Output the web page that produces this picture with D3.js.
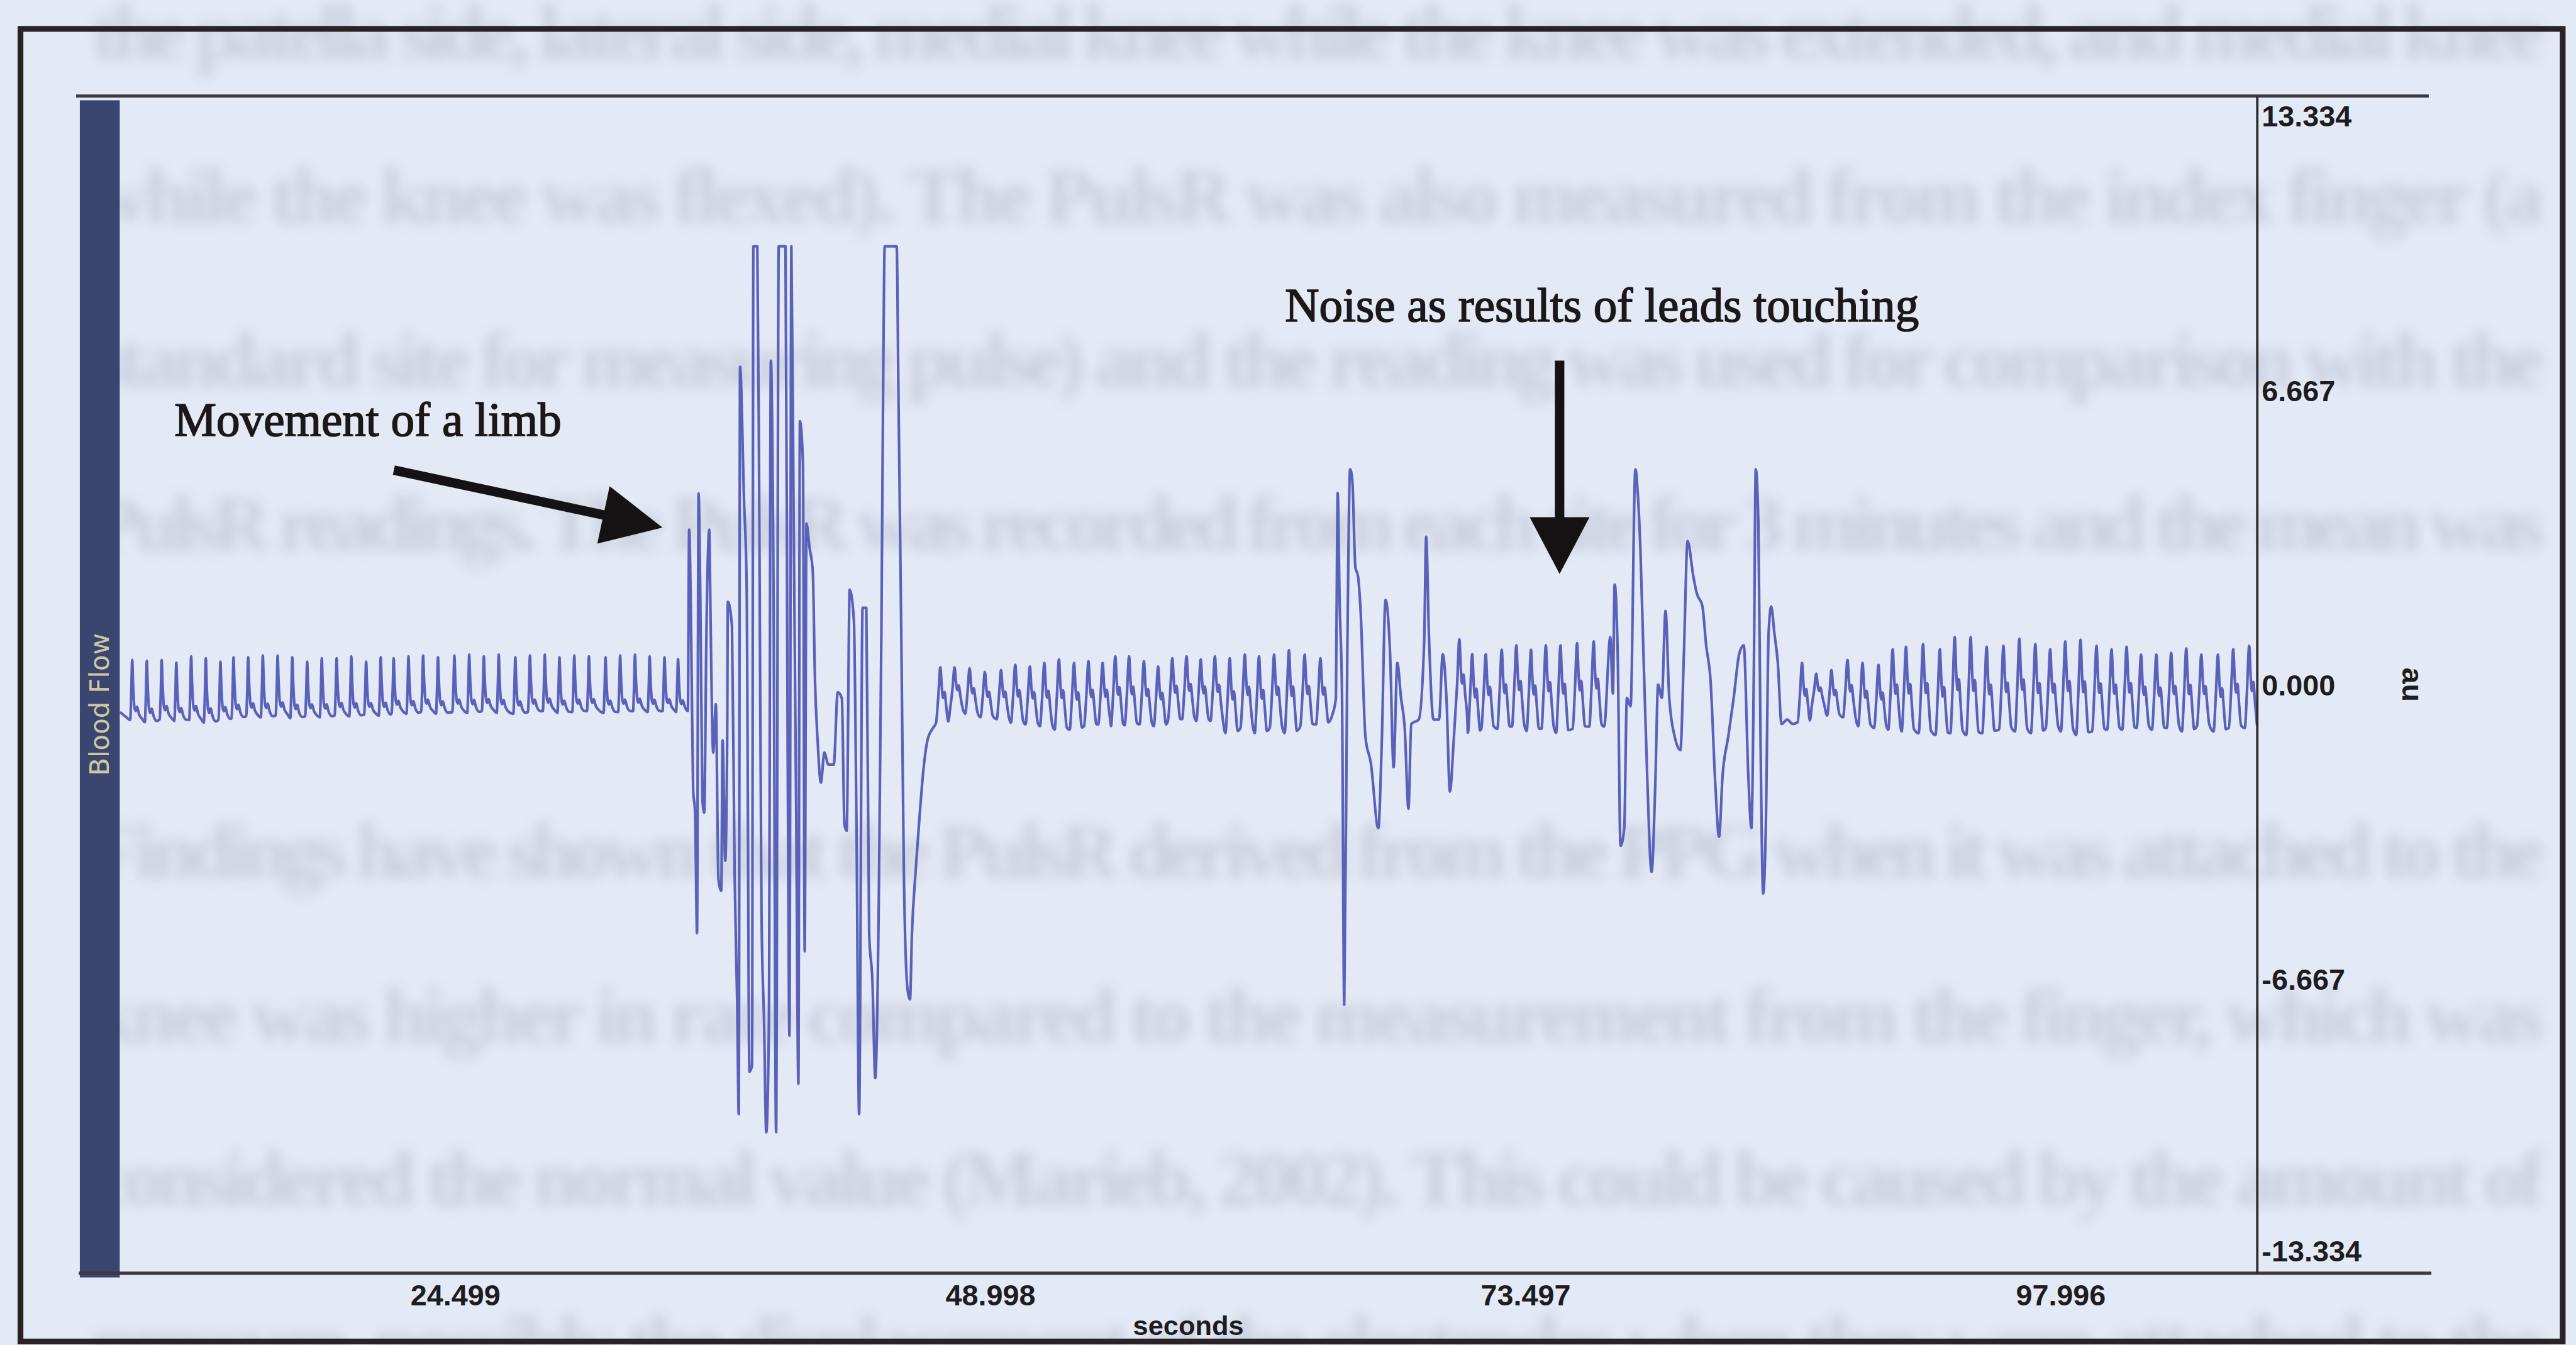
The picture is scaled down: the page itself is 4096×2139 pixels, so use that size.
<!DOCTYPE html>
<html>
<head>
<meta charset="utf-8">
<script src="https://cdn.jsdelivr.net/npm/d3@7"></script>
<style>
	html, body { margin: 0; padding: 0; background: #e4e9f6; }
	svg { display: block; }
</style>
</head>
<body>
<svg width="4096" height="2139"></svg>
<script>
// axis ticks and window, as printed on the recording
var xTicks = [24.499, 48.998, 73.497, 97.996];
var yTicks = [13.334, 6.667, 0, -6.667, -13.334];
var timeRange = [9.14, 106.99];
var valueRange = [-13.334, 13.334];

// one pulse: [seconds from the peak, share of trough->peak]
var restShape = [[-0.09, 0], [-0.045, 0.4], [0, 1], [0.04, 0.6], [0.10, 0.22], [0.16, 0.15], [0.22, 0.22], [0.31, 0.1], [0.45, 0.02]];
var beatShape = [[-0.2, 0], [-0.1, 0.45], [0, 1], [0.07, 0.62], [0.13, 0.45], [0.19, 0.56], [0.27, 0.3], [0.36, 0.03]];

// beats: [peak time (s), peak (au), trough (au)]
var restBeats = [
	[9.71, 0.56, -0.80], [10.38, 0.54, -0.85], [11.06, 0.56, -0.78], [11.73, 0.50, -0.82],
	[12.41, 0.64, -0.80], [13.08, 0.60, -0.86], [13.75, 0.52, -0.80], [14.35, 0.62, -0.76],
	[15.02, 0.62, -0.72], [15.69, 0.66, -0.74], [16.37, 0.66, -0.70], [17.04, 0.62, -0.76],
	[17.72, 0.52, -0.72], [18.39, 0.60, -0.74], [19.07, 0.60, -0.70], [19.74, 0.64, -0.72],
	[20.42, 0.52, -0.68], [21.09, 0.62, -0.70], [21.68, 0.60, -0.64], [22.36, 0.64, -0.66],
	[23.03, 0.66, -0.62], [23.71, 0.62, -0.66], [24.46, 0.66, -0.62], [25.14, 0.68, -0.64],
	[25.81, 0.64, -0.60], [26.49, 0.68, -0.64], [27.25, 0.62, -0.66], [27.92, 0.66, -0.62],
	[28.60, 0.68, -0.60], [29.27, 0.62, -0.64], [29.95, 0.66, -0.62], [30.62, 0.64, -0.60],
	[31.38, 0.62, -0.64], [32.05, 0.66, -0.62], [32.73, 0.68, -0.60], [33.40, 0.64, -0.62],
	[34.08, 0.62, -0.60], [34.70, 0.58, -0.62]
];
var recoveryBeats = [
	[46.71, 0.39, -0.87], [47.36, 0.39, -0.54], [48.05, 0.37, -0.66], [48.75, 0.29, -0.74],
	[49.49, 0.33, -0.78], [50.14, 0.45, -0.86], [50.81, 0.41, -0.90], [51.47, 0.49, -0.94],
	[52.14, 0.57, -1.02], [52.83, 0.49, -1.02], [53.49, 0.53, -0.94], [54.14, 0.49, -0.90],
	[54.72, 0.64, -0.94], [55.35, 0.64, -0.92], [56.03, 0.53, -0.90], [56.68, 0.41, -0.94],
	[57.33, 0.60, -0.82], [57.98, 0.64, -0.78], [58.63, 0.57, -0.82], [59.28, 0.64, -0.82],
	[59.96, 0.60, -1.10], [60.65, 0.68, -0.98], [61.30, 0.64, -1.10], [61.99, 0.68, -0.98],
	[62.67, 0.78, -1.10], [63.39, 0.68, -0.94], [64.11, 0.60, -0.90]
];
var midBeats = [
	[70.47, 1.03, -0.79], [71.06, 0.69, -1.09], [71.68, 0.69, -0.99], [72.41, 0.79, -1.00],
	[73.08, 0.89, -0.95], [73.75, 0.79, -1.05], [74.43, 0.89, -1.00], [75.10, 0.89, -1.09],
	[75.86, 0.94, -1.00], [76.62, 0.98, -0.95]
];
var lateBeats = [
	[86.16, 0.49, -0.85], [86.81, 0.25, -0.46], [87.51, 0.33, -0.70], [88.24, 0.56, -0.74],
	[88.93, 0.49, -0.94], [89.66, 0.45, -0.98], [90.31, 0.80, -1.02], [90.92, 0.86, -1.06],
	[91.70, 0.92, -1.10], [92.47, 0.80, -1.14], [93.15, 1.08, -1.10], [93.88, 1.08, -1.14],
	[94.61, 0.86, -1.10], [95.38, 0.88, -1.02], [96.11, 1.04, -1.06], [96.84, 0.92, -1.10],
	[97.52, 0.80, -0.98], [98.21, 0.98, -1.06], [98.91, 1.02, -1.14], [99.64, 0.88, -1.06],
	[100.33, 0.80, -1.02], [101.02, 0.86, -1.02], [101.68, 0.68, -0.98], [102.38, 0.68, -1.02],
	[103.06, 0.72, -0.98], [103.75, 0.82, -1.06], [104.44, 0.68, -0.94], [105.20, 0.68, -1.06],
	[105.90, 0.80, -0.98], [106.63, 0.88, -0.98]
];

// artefact stretches: [time (s), value (au)]
var leadIn = [[9.15, -0.62], [9.40, -0.72]];
var limbTrace = [
	[34.81, -0.58], [34.86, -2.08], [34.96, -3.58], [35.02, -1.13], [35.11, -1.26], [35.21, 3.51],
	[35.30, 1.19], [35.39, -2.36], [35.48, -2.90], [35.57, -5.63], [35.64, 4.33], [35.72, 2.01],
	[35.82, -2.63], [35.90, -2.90], [36.00, 1.19], [36.13, 3.51], [36.19, 1.47], [36.31, -1.54],
	[36.43, -0.44], [36.55, -4.40], [36.68, -4.67], [36.74, -1.26], [36.86, -3.99], [36.95, -1.26],
	[36.98, 1.88], [37.17, 1.33], [37.29, -4.27], [37.41, -7.27], [37.48, -9.73], [37.54, 7.20],
	[37.72, 4.20], [37.84, 2.29], [37.97, -8.77], [38.09, -8.63], [38.15, 9.93], [38.33, 9.93],
	[38.42, 3.92], [38.52, -5.09], [38.64, -7.68], [38.74, -10.14], [38.86, -7.68], [38.95, 7.34],
	[39.07, 2.29], [39.19, -10.14], [39.31, 9.93], [39.62, 9.93], [39.72, -1.54], [39.80, -7.95],
	[39.89, 9.93], [39.99, 3.92], [40.11, -2.90], [40.21, -9.04], [40.28, 5.97], [40.42, 5.02],
	[40.50, -6.04], [40.58, 3.65], [40.72, 3.11], [40.87, 2.56], [40.97, 0.10], [41.09, -1.26],
	[41.24, -2.22], [41.40, -1.54], [41.58, -1.81], [41.83, -1.81], [42.01, -0.17], [42.20, -0.31],
	[42.32, -3.17], [42.42, -3.31], [42.56, 2.15], [42.75, 1.47], [42.87, -3.17], [42.99, -9.73],
	[43.15, 1.74], [43.32, 1.74], [43.45, -5.63], [43.60, -6.72], [43.73, -8.91], [43.89, -4.95],
	[44.01, 1.19], [44.10, 7.34], [44.16, 9.93], [44.71, 9.93], [44.79, 6.65], [44.92, 1.19],
	[45.04, -4.27], [45.20, -6.86], [45.32, -7.13], [45.41, -5.63], [45.57, -4.27], [45.75, -3.04],
	[45.93, -1.95], [46.12, -1.26], [46.36, -0.99]
];
var noiseTrace1 = [
	[64.65, -0.69], [64.82, -0.30], [64.87, 2.96], [64.90, 4.34], [64.99, 1.87], [65.10, -0.30],
	[65.20, -7.25], [65.34, 0.69], [65.47, 4.88], [65.57, 4.63], [65.71, 2.66], [65.83, 2.46],
	[65.95, 1.67], [66.17, -1.18], [66.42, -1.78], [66.76, -3.25], [66.92, -1.28], [67.09, 1.92],
	[67.30, 0.69], [67.46, -1.87], [67.63, 0.49], [67.80, -0.30], [67.97, -0.99], [68.14, -2.81],
	[68.27, -0.89], [68.61, -0.79], [68.86, 0.98], [68.95, 3.35], [69.08, 1.08], [69.29, -0.79],
	[69.54, -0.79], [69.71, 0.69], [69.88, -0.30], [70.04, -2.42], [70.21, -1.28]
];
var noiseTrace2 = [
	[77.10, -0.95], [77.38, 1.08], [77.50, -0.20], [77.58, 2.27], [77.72, 0.69], [77.85, -3.65],
	[78.02, -3.25], [78.14, -0.30], [78.31, -0.49], [78.53, 4.88], [78.65, 4.24], [78.76, 3.05],
	[78.90, 0.69], [79.07, -2.07], [79.27, -4.24], [79.44, -2.27], [79.57, 0.00], [79.74, -0.30],
	[79.91, 1.67], [80.08, -0.30], [80.33, -1.18], [80.59, -1.48], [80.75, 0.69], [80.92, 3.25],
	[81.18, 2.46], [81.34, 2.07], [81.60, 1.77], [81.77, 0.89], [81.97, 0.10], [82.19, -2.27],
	[82.36, -3.45], [82.52, -2.07], [82.78, -1.18], [83.03, -0.30], [83.28, 0.69], [83.49, 0.89],
	[83.70, -2.07], [83.84, -3.25], [83.96, 0.69], [84.04, 4.88], [84.16, 3.65], [84.26, -1.28],
	[84.38, -4.73], [84.50, -3.25], [84.63, 1.18], [84.75, 1.77], [84.89, 1.18], [85.05, 0.49],
	[85.22, -0.89], [85.48, -0.79], [85.73, -0.89]
];

// annotations, anchored in data space: [time, value]
var limbArrow = [[21.69, 4.86], [33.99, 3.56]];
var noiseArrow = [[75.06, 7.34], [75.06, 2.51]];
var limbLabel = [11.64, 5.64];
var noiseLabel = [62.49, 8.23];

// the facing page showing through the scan
var bleedLines = [
	"the patella side, lateral side, medial knee while the knee was extended, and medial knee",
	"while the knee was flexed). The PulsR was also measured from the index finger (a",
	"standard site for measuring pulse) and the reading was used for comparison with the",
	"PulsR readings. The PulsR was recorded from each site for 3 minutes and the mean was",
	"",
	"Findings have shown that the PulsR derived from the PPG when it was attached to the",
	"knee was higher in rate compared to the measurement from the finger, which was",
	"considered the normal value (Marieb, 2002). This could be caused by the amount of",
	"pressure, possibly the displacement of the electrodes when they were attached to the"
];

var svg = d3.select("svg");
var defs = svg.append("defs");

defs.append("filter")
	.attr("id", "bleed")
	.attr("x", -0.05).attr("y", -0.5).attr("width", 1.1).attr("height", 2)
	.append("feGaussianBlur")
	.attr("stdDeviation", 12);

// everything is laid out in the reference's own pixels and shrunk once
var root = svg.append("g").attr("transform", "scale(0.835)");

var plotLeft = 228, plotRight = 4298, plotTop = 183, plotBottom = 2425;

var x = d3.scaleLinear().domain(timeRange).range([plotLeft, plotRight]);
var y = d3.scaleLinear().domain(valueRange).range([plotBottom, plotTop]);

// the recorder prints a plain hyphen for negatives
var fmt = function(d){ return d3.format(".3f")(d).replace("\u2212", "-"); };

defs.append("clipPath")
	.attr("id", "plotClip")
	.append("rect")
	.attr("x", plotLeft).attr("y", plotTop)
	.attr("width", plotRight - plotLeft).attr("height", plotBottom - plotTop);

root.append("g")
	.attr("filter", "url(#bleed)")
	.attr("fill", "#a3a9b8")
	.attr("opacity", 0.42)
	.style("font-family", "'Liberation Serif', 'Times New Roman', serif")
	.style("font-size", "150px")
	.style("font-weight", "bold")
	.selectAll("text")
	.data(bleedLines.map(function(t, i){ return {text: t, i: i}; }).filter(function(d){ return d.text.length; }))
	.enter()
	.append("text")
	.attr("x", 175)
	.attr("y", function(d){ return 112 + d.i * 312; })
	.attr("textLength", 4670)
	.attr("lengthAdjust", "spacing")
	.text(function(d){ return d.text; });

// scan frame
root.append("rect")
	.attr("x", 39).attr("y", 55)
	.attr("width", 4841).attr("height", 2500)
	.attr("fill", "none")
	.attr("stroke", "#2a2225")
	.attr("stroke-width", 11);

// channel strip on the left
root.append("rect")
	.attr("x", 152).attr("y", plotTop + 8)
	.attr("width", plotLeft - 152).attr("height", plotBottom - plotTop)
	.attr("fill", "#3a4570");

root.append("text")
	.attr("transform", "translate(190," + y(-0.45) + ") rotate(-90)")
	.attr("text-anchor", "middle")
	.attr("dominant-baseline", "central")
	.attr("fill", "#cfc9a1")
	.style("font-family", "'DejaVu Sans', sans-serif")
	.style("font-size", "50px")
	.text("Blood Flow");

// top and bottom rules of the chart window
root.append("line")
	.attr("x1", 145).attr("x2", 4625)
	.attr("y1", plotTop).attr("y2", plotTop)
	.attr("stroke", "#3b383e").attr("stroke-width", 6);

root.append("line")
	.attr("x1", 150).attr("x2", 4630)
	.attr("y1", plotBottom).attr("y2", plotBottom)
	.attr("stroke", "#3b383e").attr("stroke-width", 6);

// the trace
function beatPoints(beats, shape){
	var pts = [];
	beats.forEach(function(b){
		shape.forEach(function(s){
			pts.push([b[0] + s[0], b[2] + s[1] * (b[1] - b[2])]);
		});
	});
	return pts;
}

var trace = [].concat(
	leadIn,
	beatPoints(restBeats, restShape),
	limbTrace,
	beatPoints(recoveryBeats, beatShape),
	noiseTrace1,
	beatPoints(midBeats, beatShape),
	noiseTrace2,
	beatPoints(lateBeats, beatShape)
);

var lastT = -Infinity;
trace = trace.filter(function(d){
	if(d[0] <= lastT) return false;
	lastT = d[0];
	return true;
});

var lineFunction = d3.line()
	.curve(d3.curveMonotoneX)
	.x(function(d){ return x(d[0]); })
	.y(function(d){ return y(d[1]); });

root.append("path")
	.datum(trace)
	.attr("clip-path", "url(#plotClip)")
	.attr("fill", "none")
	.attr("stroke", "#5a61b8")
	.attr("stroke-width", 5)
	.attr("stroke-linejoin", "round")
	.attr("d", lineFunction);

// right-hand value axis
var yAxis = root.append("g")
	.attr("transform", "translate(" + plotRight + ",0)")
	.call(d3.axisRight(y)
		.tickValues(yTicks)
		.tickSize(0)
		.tickSizeOuter(0)
		.tickPadding(9)
		.tickFormat(fmt));

yAxis.select(".domain")
	.attr("stroke", "#2b2b2e")
	.attr("stroke-width", 4.5);

yAxis.selectAll("text")
	.attr("fill", "#1d1c1f")
	.attr("dy", function(d){
		if(d === yTicks[0]) return "1.02em";
		if(d === yTicks[yTicks.length - 1]) return "-0.42em";
		return "0.36em";
	})
	.style("font-family", "'Liberation Sans', Arial, sans-serif")
	.style("font-weight", "bold")
	.style("font-size", "56px");

root.append("text")
	.attr("transform", "translate(4594," + y(0) + ") rotate(90)")
	.attr("text-anchor", "middle")
	.attr("dominant-baseline", "central")
	.attr("fill", "#1d1c1f")
	.style("font-family", "'Liberation Sans', Arial, sans-serif")
	.style("font-weight", "bold")
	.style("font-size", "56px")
	.text("au");

// time axis labels
var xAxis = root.append("g")
	.attr("transform", "translate(0," + plotBottom + ")")
	.call(d3.axisBottom(x)
		.tickValues(xTicks)
		.tickSize(0)
		.tickPadding(22)
		.tickFormat(fmt));

xAxis.select(".domain").remove();

xAxis.selectAll("text")
	.attr("fill", "#1d1c1f")
	.style("font-family", "'Liberation Sans', Arial, sans-serif")
	.style("font-weight", "bold")
	.style("font-size", "56px");

root.append("text")
	.attr("x", 2263).attr("y", 2542)
	.attr("text-anchor", "middle")
	.attr("fill", "#1d1c1f")
	.style("font-family", "'Liberation Sans', Arial, sans-serif")
	.style("font-weight", "bold")
	.style("font-size", "52px")
	.text("seconds");

// annotations
function drawArrow(pts, headLen, headWidth, shaftWidth){
	var x0 = x(pts[0][0]), y0 = y(pts[0][1]),
		x1 = x(pts[1][0]), y1 = y(pts[1][1]),
		len = Math.hypot(x1 - x0, y1 - y0),
		ux = (x1 - x0) / len, uy = (y1 - y0) / len,
		bx = x1 - ux * headLen, by = y1 - uy * headLen;

	root.append("line")
		.attr("x1", x0).attr("y1", y0)
		.attr("x2", bx + ux * 4).attr("y2", by + uy * 4)
		.attr("stroke", "#151214")
		.attr("stroke-width", shaftWidth);

	root.append("path")
		.attr("fill", "#151214")
		.attr("d", "M" + x1 + "," + y1 +
			"L" + (bx - uy * headWidth / 2) + "," + (by + ux * headWidth / 2) +
			"L" + (bx + uy * headWidth / 2) + "," + (by - ux * headWidth / 2) + "Z");
}

drawArrow(limbArrow, 115, 112, 18);
drawArrow(noiseArrow, 108, 114, 18);

root.selectAll(".note")
	.data([{pos: limbLabel, text: "Movement of a limb"}, {pos: noiseLabel, text: "Noise as results of leads touching"}])
	.enter()
	.append("text")
	.attr("class", "note")
	.attr("x", function(d){ return x(d.pos[0]); })
	.attr("y", function(d){ return y(d.pos[1]); })
	.attr("fill", "#1c1819")
	.attr("stroke", "#1c1819")
	.attr("stroke-width", 2)
	.style("font-family", "'Liberation Serif', 'Times New Roman', serif")
	.style("font-size", "90px")
	.text(function(d){ return d.text; });
</script>
</body>
</html>
